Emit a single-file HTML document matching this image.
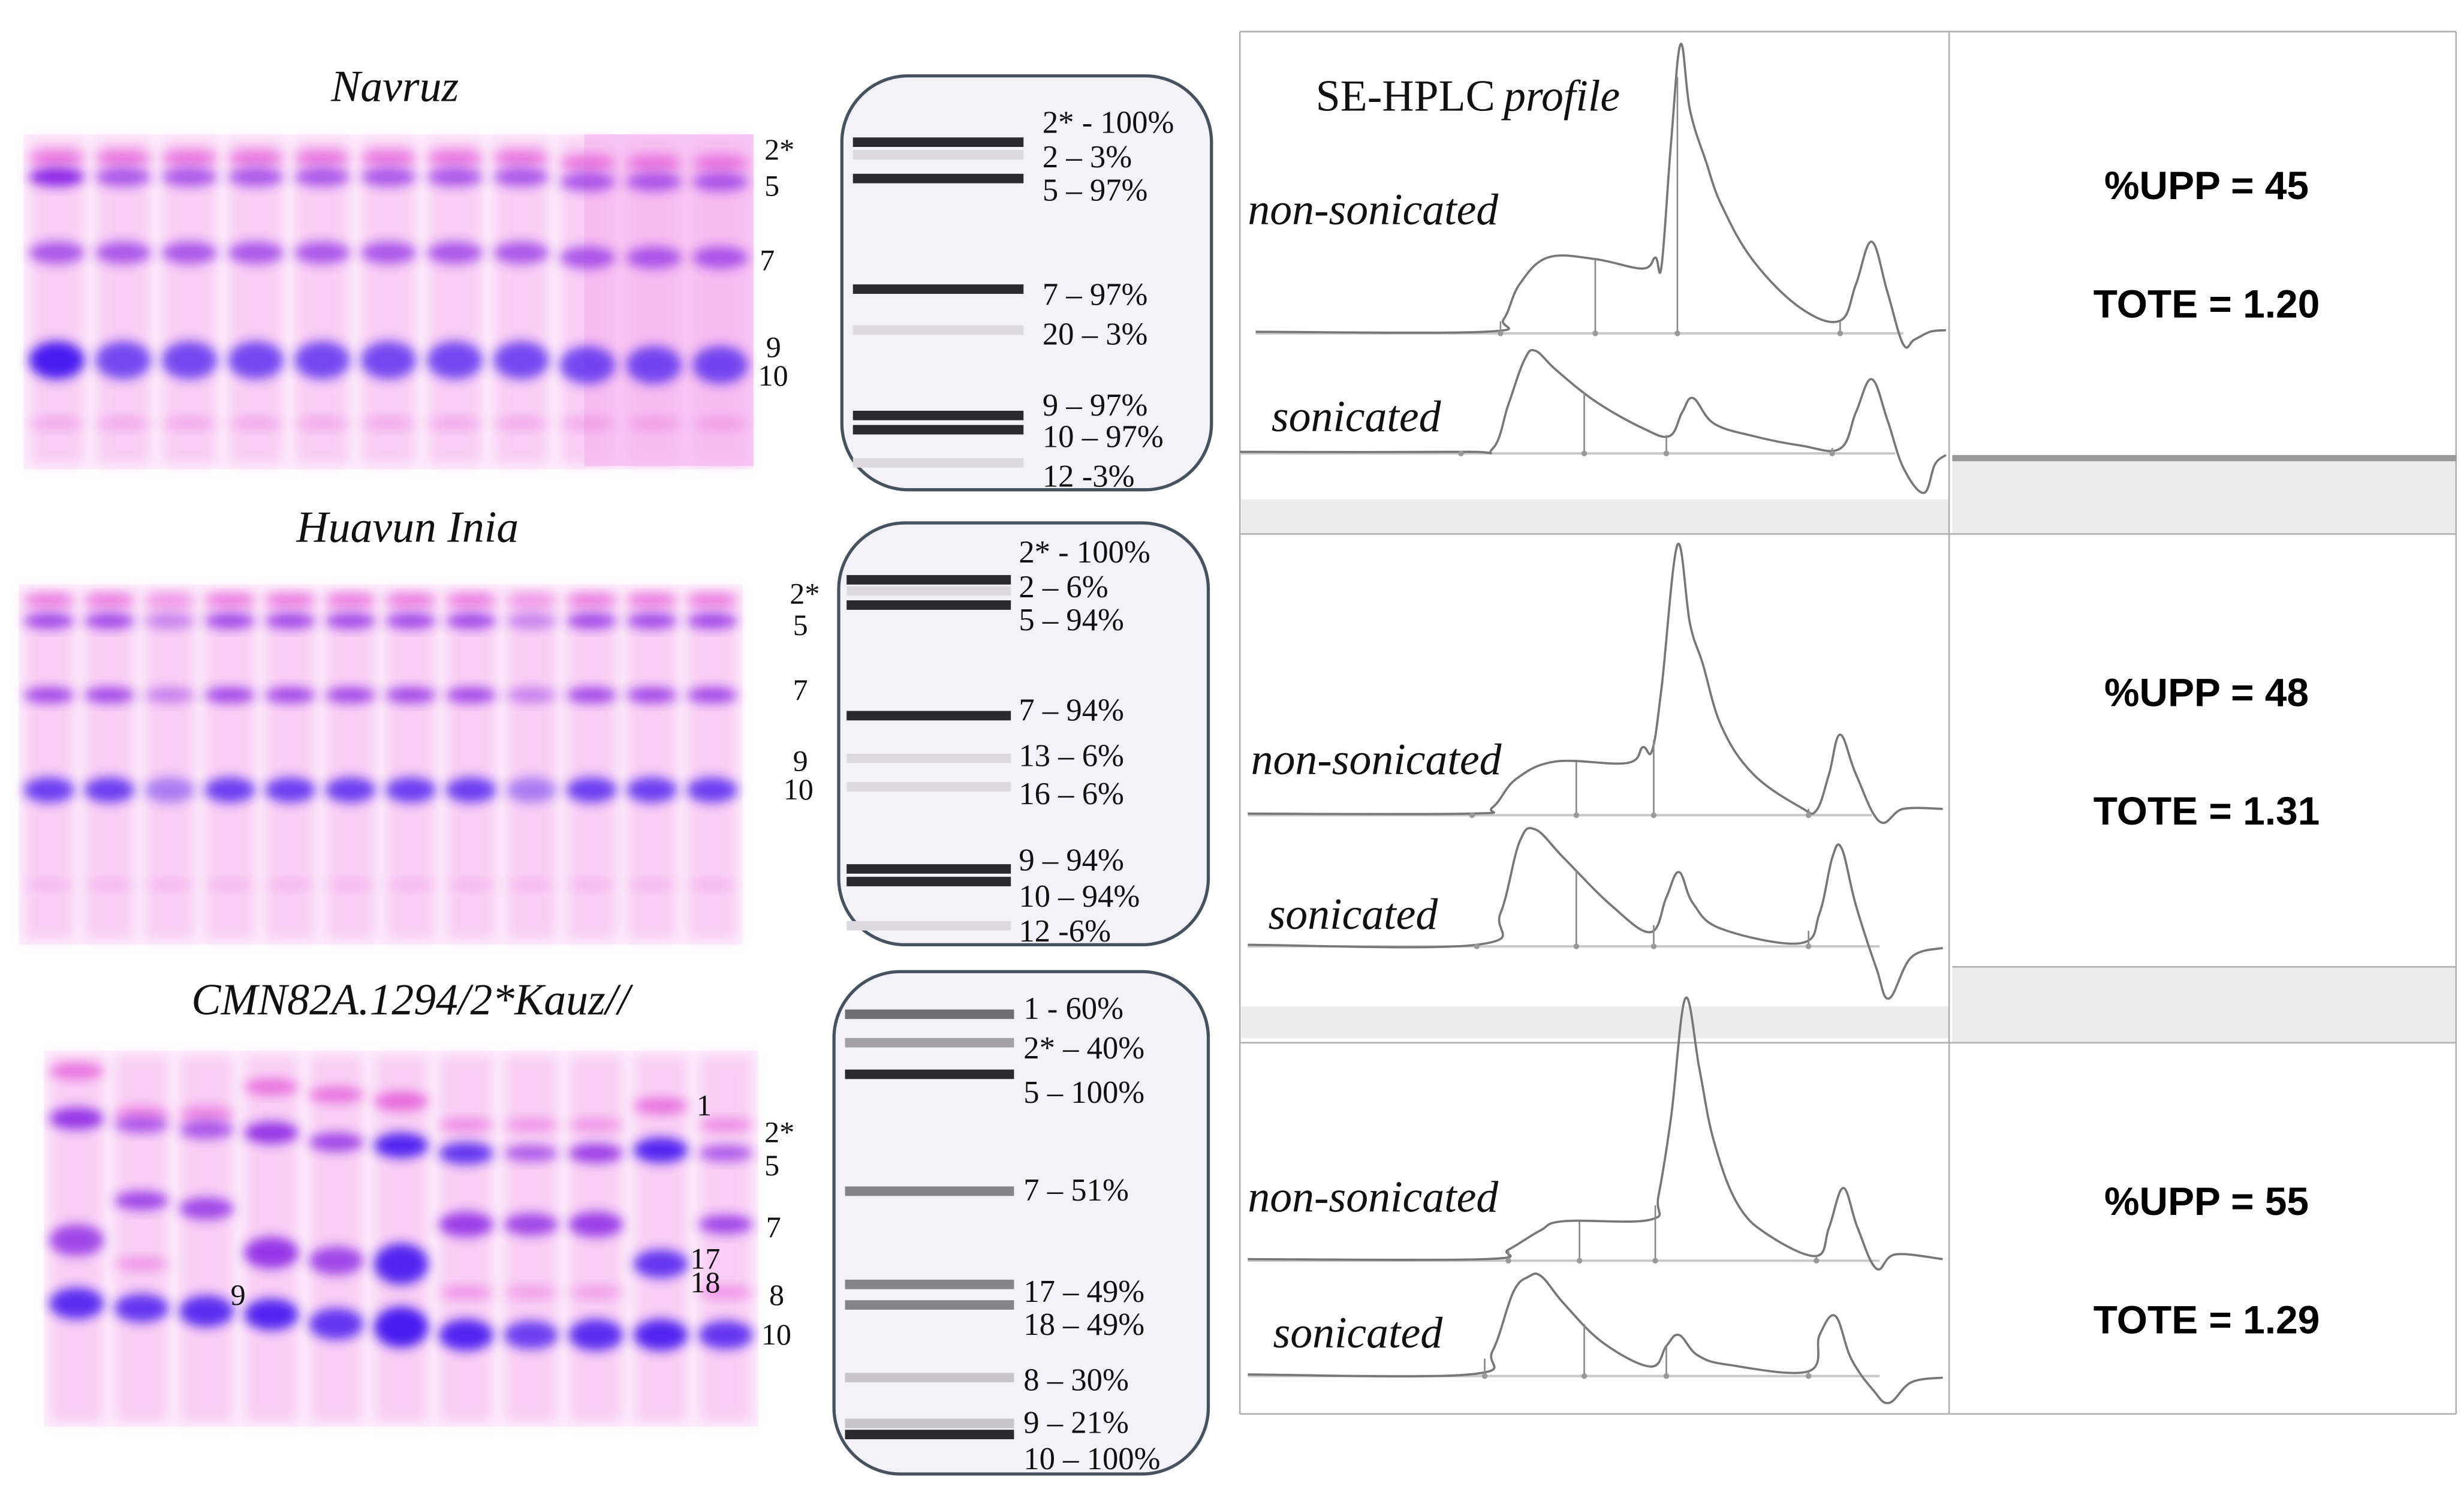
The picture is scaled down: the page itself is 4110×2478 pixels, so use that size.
<!DOCTYPE html>
<html><head><meta charset="utf-8">
<style>
html,body{margin:0;padding:0;background:#fff;}
svg{display:block;}
.ser{font-family:"Liberation Serif",serif;}
.sans{font-family:"Liberation Sans",sans-serif;}
</style></head>
<body>
<svg id="fig" width="4110" height="2478" viewBox="0 0 1560 940.6" preserveAspectRatio="none" xmlns="http://www.w3.org/2000/svg">
<defs>
<filter id="blur" x="-50%" y="-50%" width="200%" height="200%"><feGaussianBlur stdDeviation="3.5"/></filter>
<filter id="blur2" x="-50%" y="-50%" width="200%" height="200%"><feGaussianBlur stdDeviation="4"/></filter>
</defs>
<rect x="0" y="0" width="1560" height="940.6" fill="#fff"/>
<g stroke="#b0b0b0" stroke-width="1" fill="none">
<rect x="1236" y="292" width="319" height="46" fill="#ececec" stroke="none"/>
<rect x="786" y="316" width="448" height="22" fill="#ececec" stroke="none"/>
<rect x="1236" y="612" width="319" height="48" fill="#ececec" stroke="none"/>
<rect x="786" y="637" width="448" height="20" fill="#ececec" stroke="none"/>
<line x1="785" y1="20" x2="1555" y2="20"/>
<line x1="785" y1="338" x2="1555" y2="338"/>
<line x1="785" y1="660" x2="1555" y2="660"/>
<line x1="785" y1="895" x2="1555" y2="895"/>
<line x1="785" y1="20" x2="785" y2="895"/>
<line x1="1234" y1="20" x2="1234" y2="895"/>
<line x1="1555" y1="20" x2="1555" y2="895"/>
<line x1="1236" y1="290" x2="1555" y2="290" stroke="#999" stroke-width="4"/>
<line x1="1236" y1="612" x2="1555" y2="612"/>
</g>
<g id="gels"></g>
<g id="boxes"></g>
<g id="traces"></g>
<g id="texts"></g>
</svg>
<script>
const NS="http://www.w3.org/2000/svg";
const svg=document.getElementById('fig');
function mk(tag,attrs,parent){const e=document.createElementNS(NS,tag);for(const k in attrs)e.setAttribute(k,attrs[k]);(parent||svg).appendChild(e);return e;}
function txt(x,y,s,size,cls,parent,extra){const t=mk('text',Object.assign({x:x,y:y,'font-size':size,class:cls,fill:'#111'},extra||{}),parent);t.textContent=s;return t;}

// ---------- data ----------
const gelTitles=["Navruz","Huavun Inia","CMN82A.1294/2*Kauz//"];
const subunitLabels1=["2*","5","7","9","10"];
const subunitLabels2=["2*","5","7","9","10"];
const subunitLabels3=["1","2*","5","7","17","18","8","10","9"];
const box1Names=["2*","2","5","7","20","9","10","12"];
const box1Pct=[100,3,97,97,3,97,97,3];
const box2Names=["2*","2","5","7","13","16","9","10","12"];
const box2Pct=[100,6,94,94,6,6,94,94,6];
const box3Names=["1","2*","5","7","17","18","8","9","10"];
const box3Pct=[60,40,100,51,49,49,30,21,100];
const uppValues=[45,48,55];
const toteValues=[1.20,1.31,1.29];

// ---------- gels ----------
const gG=document.getElementById('gels');
function gel(x0,y0,w,h,n,lanes,name,shade){
  const g=mk('g',{},gG);
  
  
  mk('rect',{x:x0,y:y0,width:w,height:h,fill:'#fdeefb'},g);
  if(shade)mk('rect',{x:shade[0],y:shade[1],width:shade[2],height:shade[3],fill:'#f8c8f3'},g);
  const lw=w/n;
  lanes.forEach((bands,i)=>{
    const cx=x0+(i+0.5)*lw;
    mk('rect',{x:cx-lw*0.4,y:y0+3,width:lw*0.8,height:h-6,fill:'#f5b2ef',opacity:0.55,filter:'url(#blur2)'},g);
    bands.forEach(b=>{
      const col=b[2]==='b'?'#4a1cf0':b[2]==='p'?'#8a28e6':'#e45ad8';
      mk('ellipse',{cx:cx,cy:b[0],rx:lw*0.42,ry:b[1],fill:col,opacity:b[3],filter:'url(#blur)'},g);
    });
  });
}
const L1=[];for(let i=0;i<11;i++){const d=i>=8?3:0;L1.push([[100+d,5,'k',0.75],[112+d,6,'p',i==0?1:0.7],[160+d,7,'p',0.7],[228+d,12,'b',i==0?1:0.75],[268,4,'k',0.3]]);}
gel(15,85,462,212,11,L1,'navruz-gel',[370,85,107,210]);
const L2=[];for(let i=0;i<12;i++){const f=(i==2||i==8)?0.45:0.8;L2.push([[380,4,'k',0.7*f+0.2],[393,5,'p',f],[440,5,'p',f],[500,8,'b',f],[560,3,'k',0.2]]);}
gel(12,370,458,228,12,L2,'huavun-inia-gel');
const L3=[
 [[678,5,'k',0.8],[708,7,'p',0.9],[785,10,'p',0.8],[825,10,'b',0.9]],
 [[705,5,'k',0.6],[712,5,'p',0.7],[760,6,'p',0.8],[800,4,'k',0.5],[828,9,'b',0.85]],
 [[705,5,'k',0.6],[715,6,'p',0.7],[765,7,'p',0.8],[830,10,'b',0.9]],
 [[688,5,'k',0.8],[717,7,'p',0.9],[793,10,'p',0.9],[832,10,'b',0.95]],
 [[693,5,'k',0.8],[723,6,'p',0.8],[798,9,'p',0.8],[838,10,'b',0.85]],
 [[697,6,'k',0.85],[725,8,'b',0.95],[800,13,'b',0.95],[840,13,'b',1]],
 [[712,4,'k',0.6],[730,7,'b',0.85],[775,8,'p',0.85],[818,4,'k',0.5],[845,10,'b',0.95]],
 [[712,4,'k',0.5],[730,5,'p',0.7],[775,7,'p',0.8],[818,4,'k',0.4],[845,9,'b',0.8]],
 [[712,4,'k',0.5],[730,6,'p',0.85],[775,8,'p',0.85],[818,4,'k',0.4],[845,10,'b',0.9]],
 [[700,5,'k',0.8],[728,8,'b',0.95],[800,9,'b',0.85],[845,10,'b',0.95]],
 [[712,4,'k',0.6],[730,5,'p',0.7],[775,6,'p',0.8],[818,4,'k',0.5],[845,9,'b',0.85]]
];
gel(28,665,452,238,11,L3,'cmn82a-gel');

// ---------- band diagram boxes ----------
const bG=document.getElementById('boxes');
function box(x,y,w,h,names,pct,barY,barCol,x1,x2,labX,labY,name){
  const g=mk('g',{},bG);
  
  
  mk('rect',{x:x,y:y,width:w,height:h,rx:42,ry:42,fill:'#f4f2f9',stroke:'#465260','stroke-width':2},g);
  barY.forEach((by,i)=>{
    const r=mk('rect',{x:x1,y:by-3,width:x2-x1,height:6,fill:barCol[i]},g);
    
    
  });
  names.forEach((n,i)=>{
    const sep=(pct[i]<10&&i==names.length-1)?' -':(i==0&&n.indexOf('*')>=0)||n=="1"?' - ':' – ';
    const t=txt(labX,labY[i],n+sep+pct[i]+'%',20,'ser',g);
    
    
  });
}
const D='#2a2a2e',Lt='#dcdae0',G1='#6f6e72',G2='#a3a1a6',G3='#858488',G4='#c7c5ca';
box(533,48,234,262,box1Names,box1Pct,[90,98,113,183,209,263,272,293],[D,Lt,D,D,Lt,D,D,Lt],540,648,660,[84,106,127,193,218,263,283,308],'band-diagram-navruz');
box(531,331,234,267,box2Names,box2Pct,[367,374,383,453,480,498,550,558,586],[D,Lt,D,D,Lt,Lt,D,D,Lt],536,640,645,[356,378,399,456,485,509,551,574,596],'band-diagram-huavun');
box(528,615,237,318,box3Names,box3Pct,[642,660,680,754,813,826,872,901,908],[G1,G2,D,G3,G3,G3,G4,G4,D],535,642,648,[645,670,698,760,824,845,880,907,930],'band-diagram-cmn82a');

// ---------- chromatograms ----------
const tG=document.getElementById('traces');
const ns1T=[795,940,952,962,980,1010,1040,1048,1052,1058,1064,1070,1080,1090,1110,1140,1165,1175,1185,1195,1205,1212,1222,1232];
const ns1V=[0,0,8,30,47,46,40,47,42,120,182,140,108,80,45,15,7,30,57,25,-8,-5,0,1];
const so1T=[785,925,945,955,965,972,985,1010,1040,1057,1065,1072,1085,1110,1140,1165,1175,1185,1195,1205,1218,1225,1232];
const so1V=[0,0,2,30,58,64,52,32,15,10,25,34,18,10,4,2,25,46,20,-10,-26,-8,-2];
const ns2T=[790,930,945,960,985,1030,1040,1046,1052,1062,1070,1078,1090,1110,1140,1150,1158,1165,1175,1190,1205,1230];
const ns2V=[0,0,4,22,33,32,42,40,80,170,120,95,55,25,4,2,25,50,25,-5,3,3];
const so2T=[790,935,950,962,972,990,1020,1045,1055,1063,1072,1090,1140,1152,1160,1166,1175,1188,1196,1210,1230];
const so2V=[0,0,20,65,73,55,25,8,30,46,26,10,1,20,55,61,25,-15,-34,-8,-2];
const ns3T=[790,940,955,975,990,1045,1050,1058,1067,1076,1085,1100,1120,1150,1158,1167,1176,1188,1200,1230];
const ns3V=[0,0,6,18,24,25,40,90,165,120,75,35,15,2,20,45,20,-6,3,0];
const so3T=[790,930,945,958,968,976,990,1015,1045,1055,1063,1075,1095,1145,1152,1162,1172,1186,1196,1210,1230];
const so3V=[0,0,15,52,62,62,45,20,5,18,25,12,6,2,25,37,10,-10,-18,-5,-2];

function smoothPath(P){
  let d='M'+P[0][0]+' '+P[0][1].toFixed(1);
  for(let i=0;i<P.length-1;i++){
    const p0=P[Math.max(0,i-1)],p1=P[i],p2=P[i+1],p3=P[Math.min(P.length-1,i+2)];
    const t=0.18;
    const c1x=p1[0]+(p2[0]-p0[0])*t,c1y=p1[1]+(p2[1]-p0[1])*t;
    const c2x=p2[0]-(p3[0]-p1[0])*t,c2y=p2[1]-(p3[1]-p1[1])*t;
    d+=' C'+c1x.toFixed(1)+' '+c1y.toFixed(1)+' '+c2x.toFixed(1)+' '+c2y.toFixed(1)+' '+p2[0]+' '+p2[1].toFixed(1);
  }
  return d;
}
function trace(T,V,base,scale,drops,name,axisX1,axisX2){
  const g=mk('g',{},tG);
  
  
  const yv=v=>base-v*scale;
  mk('line',{x1:axisX1,y1:base+1,x2:axisX2,y2:base+1,stroke:'#c8c8c8','stroke-width':1.5},g);
  const P=T.map((t,i)=>[t,yv(V[i])]);
  const p=mk('path',{d:smoothPath(P),fill:'none',stroke:'#777','stroke-width':1.4,'stroke-linejoin':'round'},g);
  
  
  drops.forEach(x=>{
    let k=0;while(k<T.length-2&&T[k+1]<x)k++;
    const f=(x-T[k])/(T[k+1]-T[k]);const v=V[k]+f*(V[k+1]-V[k]);
    mk('line',{x1:x,y1:yv(v),x2:x,y2:base+1,stroke:'#888','stroke-width':1},g);
    mk('circle',{cx:x,cy:base+1,r:1.8,fill:'#999'},g);
  });
}
trace(ns1T,ns1V,210,1,[950,1010,1062,1165],'navruz-non-sonicated-trace',795,1205);
trace(so1T,so1V,286,1,[925,1003,1055,1160],'navruz-sonicated-trace',785,1200);
trace(ns2T,ns2V,515,1,[932,998,1047,1145],'huavun-non-sonicated-trace',790,1185);
trace(so2T,so2V,598,1,[935,998,1047,1145],'huavun-sonicated-trace',790,1190);
trace(ns3T,ns3V,797,1,[955,1000,1048,1150],'cmn82a-non-sonicated-trace',790,1190);
trace(so3T,so3V,870,1,[940,1003,1055,1145],'cmn82a-sonicated-trace',790,1190);

// ---------- texts ----------
const X=document.getElementById('texts');
function named(t,n){return t;}
named(txt(250,64,gelTitles[0],28,'ser',X,{'font-style':'italic','text-anchor':'middle'}),'gel-title-navruz');
named(txt(258,343,gelTitles[1],28,'ser',X,{'font-style':'italic','text-anchor':'middle'}),'gel-title-huavun');
named(txt(260,642,gelTitles[2],28,'ser',X,{'font-style':'italic','text-anchor':'middle'}),'gel-title-cmn82a');
const sl1Pos=[[484,101],[484,124],[481,171],[485,226],[480,244]];
subunitLabels1.forEach((s,i)=>named(txt(sl1Pos[i][0],sl1Pos[i][1],s,19,'ser',X),'subunit-label'));
const sl2Pos=[[500,382],[502,402],[502,443],[502,488],[496,506]];
subunitLabels2.forEach((s,i)=>named(txt(sl2Pos[i][0],sl2Pos[i][1],s,19,'ser',X),'subunit-label'));
const sl3Pos=[[441,706],[484,723],[484,744],[485,783],[437,803],[437,818],[487,826],[482,851],[146,826]];
subunitLabels3.forEach((s,i)=>named(txt(sl3Pos[i][0],sl3Pos[i][1],s,19,'ser',X),'subunit-label'));
named(txt(833,70,'SE-HPLC ',28,'ser',X),'hplc-title');
named(txt(952,70,'profile',28,'ser',X,{'font-style':'italic'}),'hplc-title-italic');
const trLab=[['non-sonicated',790,142],['sonicated',805,273],['non-sonicated',792,490],['sonicated',803,588],['non-sonicated',790,767],['sonicated',806,853]];
trLab.forEach(l=>named(txt(l[1],l[2],l[0],28,'ser',X,{'font-style':'italic'}),'trace-label'));
const uppY=[126,447,769],toteY=[201,522,844];
uppValues.forEach((v,i)=>{
  named(txt(1397,uppY[i],'%UPP = '+v,25,'sans',X,{'text-anchor':'middle','font-weight':'bold','fill':'#000'}),'upp-value');
  named(txt(1397,toteY[i],'TOTE = '+toteValues[i].toFixed(2),25,'sans',X,{'text-anchor':'middle','font-weight':'bold','fill':'#000'}),'tote-value');
});
</script>
</body></html>
